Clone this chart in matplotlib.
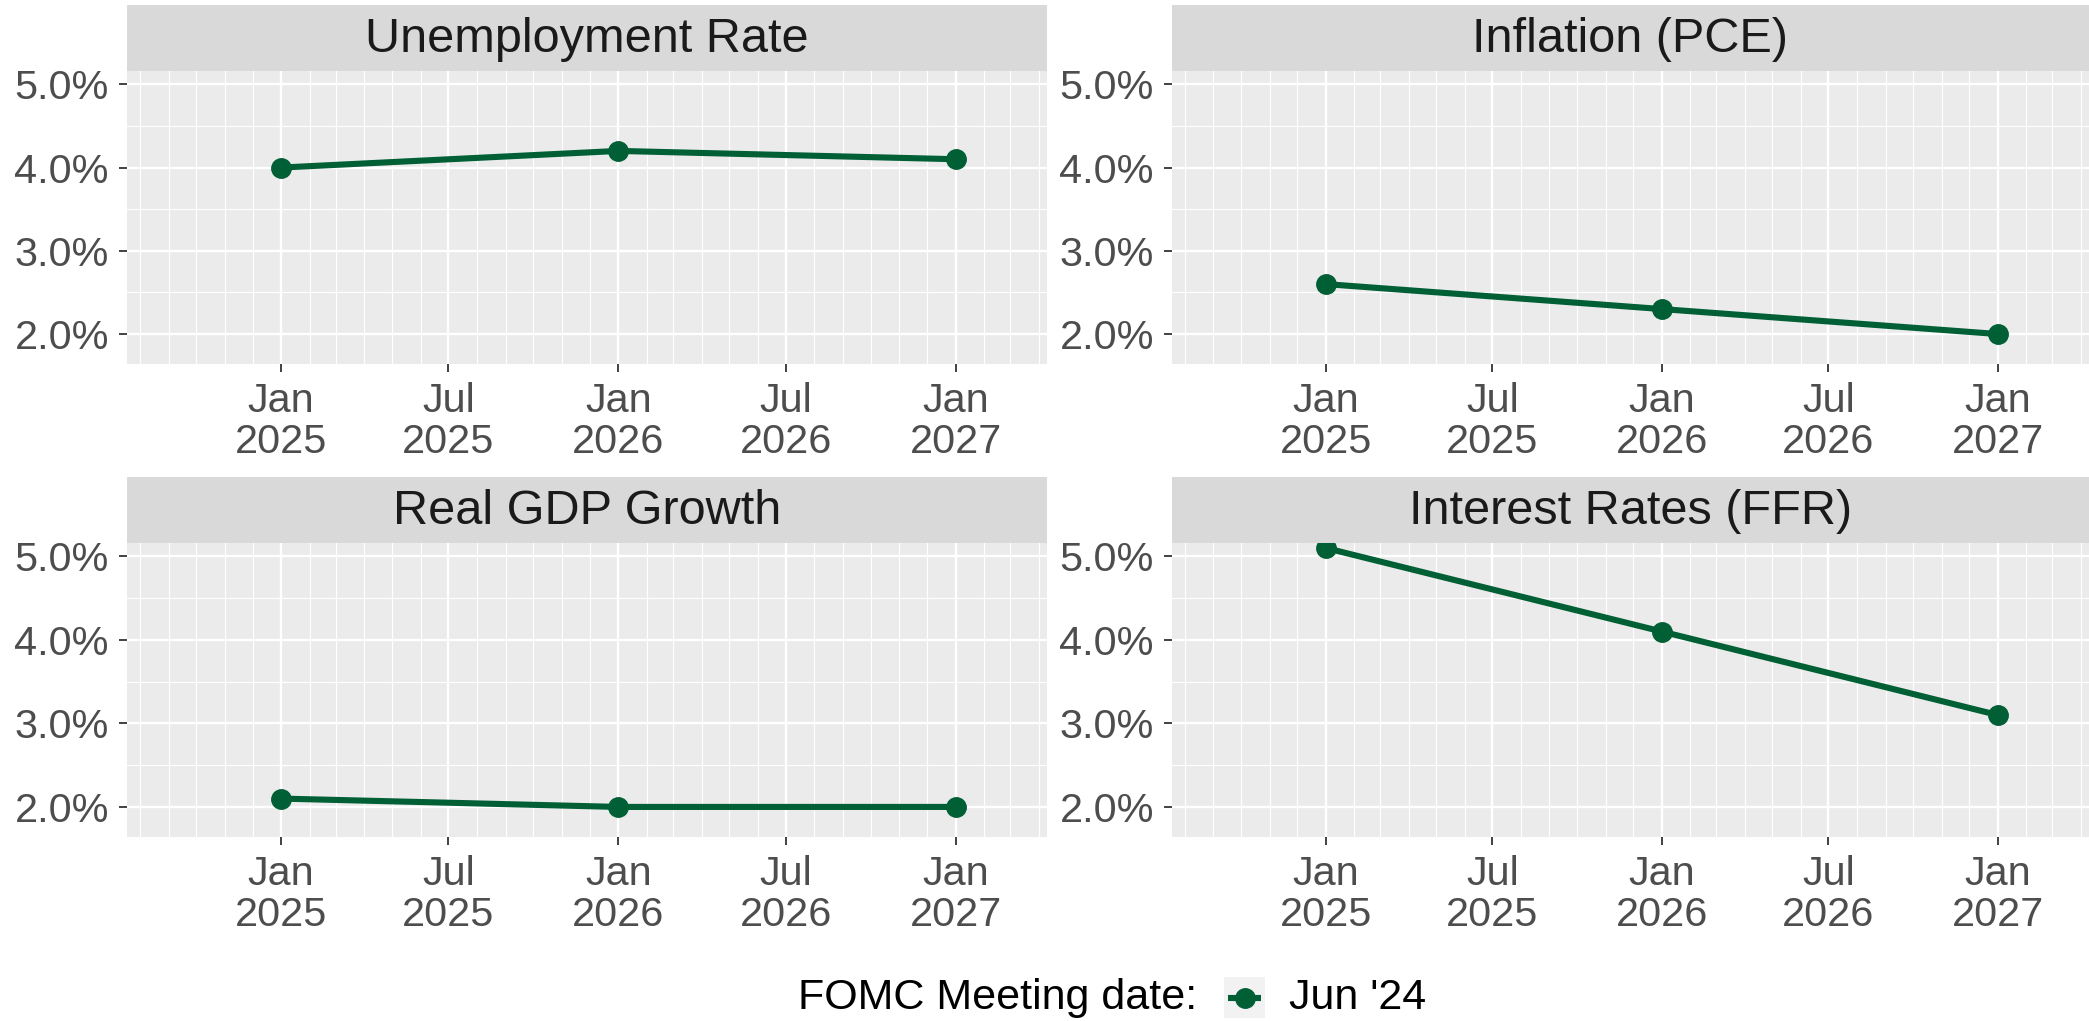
#!/usr/bin/env python3
"""FOMC Summary of Economic Projections, Jun '24 meeting, four faceted panels."""

import datetime as dt

import matplotlib

matplotlib.use("Agg")
import matplotlib.dates as mdates
import matplotlib.pyplot as plt
from matplotlib.ticker import FixedLocator, FuncFormatter

plt.rcParams["font.family"] = ["Liberation Sans", "DejaVu Sans"]

# Data
PROJ_DATES = [dt.date(2025, 1, 1), dt.date(2026, 1, 1), dt.date(2027, 1, 1)]
PANEL_TITLES = ["Unemployment Rate", "Inflation (PCE)", "Real GDP Growth", "Interest Rates (FFR)"]
UNEMPLOYMENT = [4.0, 4.2, 4.1]
INFLATION = [2.6, 2.3, 2.0]
GDP_GROWTH = [2.1, 2.0, 2.0]
FED_FUNDS = [5.1, 4.1, 3.1]
SERIES = [UNEMPLOYMENT, INFLATION, GDP_GROWTH, FED_FUNDS]
Y_TICKS = [2.0, 3.0, 4.0, 5.0]
Y_MINOR = [2.5, 3.5, 4.5]
LEGEND_TITLE = "FOMC Meeting date:"
LEGEND_LABEL = "Jun '24"

# Style
LINE_COLOR = "#005f35"
PANEL_BG = "#ebebeb"
STRIP_BG = "#d9d9d9"
KEY_BG = "#f2f2f2"
AXIS_TEXT = "#4d4d4d"
STRIP_TEXT = "#1a1a1a"
TICK_SIZE = 29.8
STRIP_SIZE = 35
LEGEND_SIZE = 31

W, H = 2089, 1021
# panel boxes in pixels: (x0, y0, x1, y1), y from the top
PANELS = [
    (127, 71, 1047, 364),
    (1172, 71, 2089, 364),
    (127, 543, 1047, 837),
    (1172, 543, 2089, 837),
]
STRIP_H = 66
X_LIM = (dt.date(2024, 7, 18), dt.date(2027, 4, 10))
Y_LIM = (1.64, 5.16)


def px_rect(x0, y0, x1, y1):
    return [x0 / W, 1 - y1 / H, (x1 - x0) / W, (y1 - y0) / H]


def main():
    fig = plt.figure(figsize=(W / 100, H / 100), dpi=100)
    fig.patch.set_facecolor("white")

    for (x0, y0, x1, y1), title, values in zip(PANELS, PANEL_TITLES, SERIES):
        ax = fig.add_axes(px_rect(x0, y0, x1, y1))
        ax.set_facecolor(PANEL_BG)
        for spine in ax.spines.values():
            spine.set_visible(False)

        ax.plot(PROJ_DATES, values, color=LINE_COLOR, linewidth=4.4,
                marker="o", markersize=14, solid_capstyle="butt", zorder=3)

        ax.set_xlim(*X_LIM)
        ax.set_ylim(*Y_LIM)

        ax.xaxis.set_major_locator(mdates.MonthLocator(bymonth=[1, 7]))
        ax.xaxis.set_minor_locator(mdates.MonthLocator())
        ax.xaxis.set_major_formatter(mdates.DateFormatter("%b\n%Y"))
        ax.yaxis.set_major_locator(FixedLocator(Y_TICKS))
        ax.yaxis.set_minor_locator(FixedLocator(Y_MINOR))
        ax.yaxis.set_major_formatter(FuncFormatter(lambda v, _: f"{v:.1f}%"))

        ax.grid(which="major", color="white", linewidth=1.7)
        ax.grid(which="minor", color="white", linewidth=0.85)
        ax.set_axisbelow(True)

        ax.tick_params(which="major", length=6, width=1.3, color="#333333",
                       labelsize=TICK_SIZE, labelcolor=AXIS_TEXT, pad=7)
        ax.tick_params(which="minor", length=0)
        for lab in ax.get_xticklabels():
            lab.set_linespacing(1.1)

        sx = fig.add_axes(px_rect(x0, y0 - STRIP_H, x1, y0))
        sx.set_facecolor(STRIP_BG)
        sx.set_xticks([])
        sx.set_yticks([])
        for spine in sx.spines.values():
            spine.set_visible(False)
        sx.text(0.5, 0.47, title, ha="center", va="center",
                fontsize=STRIP_SIZE, color=STRIP_TEXT, transform=sx.transAxes)

    # legend at the bottom
    fig.text(1197 / W, 1 - 998 / H, LEGEND_TITLE, ha="right", va="center",
             fontsize=LEGEND_SIZE, color="black")
    kx = fig.add_axes(px_rect(1224, 977, 1265, 1018))
    kx.set_facecolor(KEY_BG)
    kx.set_xlim(0, 1)
    kx.set_ylim(0, 1)
    kx.set_xticks([])
    kx.set_yticks([])
    for spine in kx.spines.values():
        spine.set_visible(False)
    kx.plot([0.1, 0.9], [0.5, 0.5], color=LINE_COLOR, linewidth=4.4,
            solid_capstyle="butt")
    kx.plot([0.5], [0.5], "o", color=LINE_COLOR, markersize=14)
    fig.text(1289 / W, 1 - 998 / H, LEGEND_LABEL, ha="left", va="center",
             fontsize=LEGEND_SIZE, color="black")

    fig.savefig("out.png", dpi=100, facecolor="white")


if __name__ == "__main__":
    main()
